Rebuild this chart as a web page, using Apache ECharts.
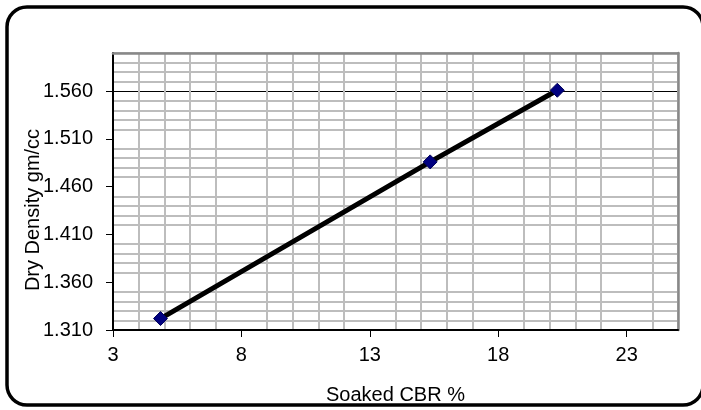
<!DOCTYPE html>
<html>
<head>
<meta charset="utf-8">
<script src="https://cdn.jsdelivr.net/npm/echarts@6/dist/echarts.min.js"></script>
<style>
  html, body { margin: 0; padding: 0; background: #fff; }
  #chart { width: 701px; height: 410px; }
</style>
</head>
<body>
<div id="chart"></div>
<script>
// ---- data ----
const cbrValues = [4.85, 15.35, 20.3];          // Soaked CBR %
const densityValues = [1.322, 1.486, 1.561];    // Dry Density gm/cc
const xTickLabels = [3, 8, 13, 18, 23];
const yTickLabels = [1.31, 1.36, 1.41, 1.46, 1.51, 1.56];
const xTitle = 'Soaked CBR %';
const yTitle = 'Dry Density gm/cc';

const FONT = '"Liberation Sans", Arial, sans-serif';
const T = 'rgba(0,0,0,0)';
const G = '#bdbdbd';

const chart = echarts.init(document.getElementById('chart'), null, { renderer: 'canvas' });

const points = cbrValues.map((x, i) => [x, densityValues[i]]);

chart.setOption({
  animation: false,
  backgroundColor: '#fff',
  textStyle: { fontFamily: FONT, color: '#000' },
  grid: { left: 113, right: 23, top: 53, bottom: 78, containLabel: false },
  xAxis: [
    {
      type: 'value', min: 3, max: 25, interval: 1, position: 'bottom',
      axisLine: { show: true, onZero: false, lineStyle: { color: '#000', width: 2 } },
      axisTick: { show: true, customValues: xTickLabels, length: 7, lineStyle: { color: '#000', width: 1 } },
      axisLabel: { show: true, customValues: xTickLabels, fontSize: 20, color: '#000', fontFamily: FONT, margin: 15 },
      splitLine: { show: true, lineStyle: { color: ['#000', T, T, T, T], width: 1 } },
      name: xTitle, nameLocation: 'middle', nameGap: 55,
      nameTextStyle: { fontSize: 20, color: '#000', fontFamily: FONT }
    },
    {
      type: 'value', min: 3, max: 25, interval: 1, position: 'top',
      axisLine: { show: true, onZero: false, lineStyle: { color: '#888', width: 2.5 } },
      axisTick: { show: false }, axisLabel: { show: false },
      splitLine: { show: true, lineStyle: { color: [T, G, G, G, G], width: 2 } }
    }
  ],
  yAxis: [
    {
      type: 'value', min: 1.31, max: 1.60, interval: 0.01, position: 'left',
      axisLine: { show: true, onZero: false, lineStyle: { color: '#000', width: 2 } },
      axisTick: { show: true, customValues: yTickLabels, length: 7, lineStyle: { color: '#000', width: 1 } },
      axisLabel: {
        show: true, customValues: yTickLabels, fontSize: 20, color: '#000', fontFamily: FONT, margin: 20,
        formatter: v => Number(v).toFixed(3)
      },
      splitLine: { show: true, lineStyle: { color: ['#000', T, T, T, T], width: 1 } }
    },
    {
      type: 'value', min: 1.31, max: 1.60, interval: 0.01, position: 'right',
      axisLine: { show: true, onZero: false, lineStyle: { color: '#888', width: 2.5 } },
      axisTick: { show: false }, axisLabel: { show: false },
      splitLine: { show: true, lineStyle: { color: [T, G, G, G, G], width: 2 } }
    }
  ],
  graphic: [
    {
      type: 'rect', silent: true, z: 100,
      shape: { x: 7, y: 7, width: 696, height: 398, r: 20 },
      style: { fill: null, stroke: '#000', lineWidth: 3.5 }
    },
    {
      type: 'text', x: 33, y: 210, rotation: Math.PI / 2, z: 100,
      style: { text: yTitle, fontSize: 20, fontFamily: FONT, fill: '#000', align: 'center', verticalAlign: 'middle' }
    }
  ],
  series: [
    {
      type: 'line', xAxisIndex: 0, yAxisIndex: 0, data: points,
      symbol: 'diamond', symbolSize: 14,
      lineStyle: { color: '#000', width: 5 },
      itemStyle: { color: '#000080', borderColor: '#00005a', borderWidth: 1 },
      z: 10
    }
  ]
});
</script>
</body>
</html>
